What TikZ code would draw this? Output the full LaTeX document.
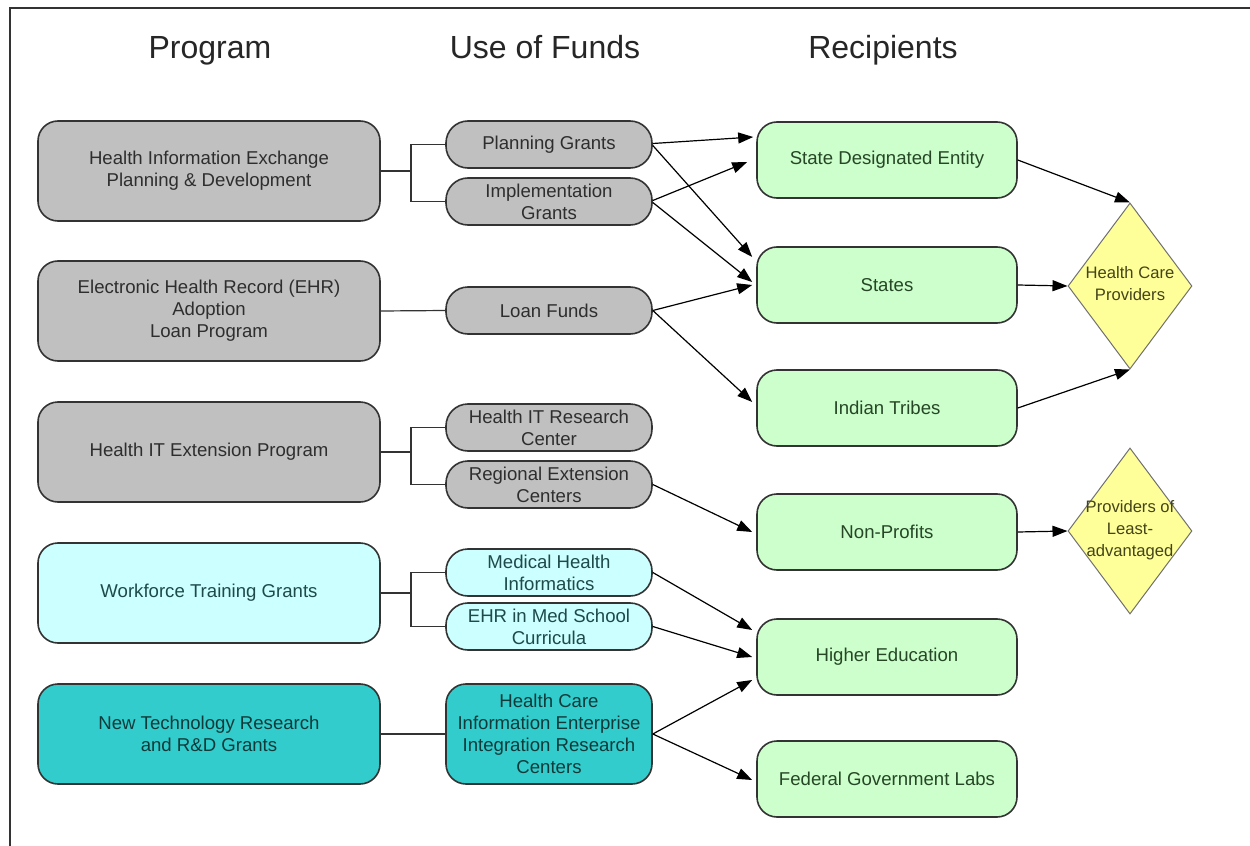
\documentclass[tikz,border=0pt]{standalone}
\usepackage{fontspec}
\setmainfont{Liberation Sans}
\usetikzlibrary{shapes.geometric,arrows.meta,calc}
\definecolor{bordc}{HTML}{333333}
\definecolor{grayf}{HTML}{C0C0C0}
\definecolor{grayt}{HTML}{2E2E2E}
\definecolor{cyanf}{HTML}{CCFFFF}
\definecolor{cyant}{HTML}{1E4A4A}
\definecolor{tealf}{HTML}{33CCCC}
\definecolor{tealt}{HTML}{103A3A}
\definecolor{greenf}{HTML}{CCFFCC}
\definecolor{greent}{HTML}{264626}
\definecolor{yellowf}{HTML}{FFFF99}
\definecolor{yellowt}{HTML}{44441A}
\begin{document}
\begin{tikzpicture}[x=0.5pt,y=-0.5pt,
  every node/.style={font=\fontsize{9.3}{11}\selectfont, align=center, inner sep=0pt},
  title/.style={font=\fontsize{16}{19}\selectfont, text=black!85, anchor=base},
  prog/.style={draw=bordc, line width=0.8pt, rounded corners=10pt, minimum width=171pt, minimum height=50pt},
  fund/.style={draw=bordc, line width=0.8pt, rounded corners=11pt, minimum width=103pt, minimum height=23.5pt},
  bigfund/.style={draw=bordc, line width=0.8pt, rounded corners=10pt, minimum width=103pt, minimum height=50pt},
  grayb/.style={fill=grayf, text=grayt},
  cyanb/.style={fill=cyanf, text=cyant},
  tealb/.style={fill=tealf, text=tealt},
  recip/.style={draw=bordc, fill=greenf, text=greent, line width=0.8pt, rounded corners=10pt, minimum width=130pt, minimum height=38pt},
  dia/.style={diamond, draw=bordc!70, fill=yellowf, line width=0.5pt, minimum width=62pt, minimum height=83pt},
  dtext/.style={text=yellowt, font=\fontsize{8.3}{11}\selectfont},
  link/.style={draw=bordc, line width=0.6pt},
  arr/.style={draw=black, line width=0.6pt, -{Triangle[length=7.5pt,width=5.5pt]}}
]
\useasboundingbox (0,0) rectangle (1250,846);
\fill[white] (0,0) rectangle (1250,846);
\draw[line width=1pt, bordc] (1250,8) -- (10,8) -- (10,846);

% titles
\node[title] (t1) at (210,58) {Program};
\node[title] (t2) at (545,58) {Use of Funds};
\node[title] (t3) at (883,58) {Recipients};

% programs
\node[prog,grayb] (p1) at (209,171) {Health Information Exchange\\Planning \& Development};
\node[prog,grayb] (p2) at (209,311) {Electronic Health Record (EHR)\\Adoption\\Loan Program};
\node[prog,grayb] (p3) at (209,452) {Health IT Extension Program};
\node[prog,cyanb] (p4) at (209,593) {Workforce Training Grants};
\node[prog,tealb] (p5) at (209,734) {New Technology Research\\and R\&D Grants};

% use of funds
\node[fund,grayb] (pg) at (549,144.5) {Planning Grants};
\node[fund,grayb] (ig) at (549,201.5) {Implementation\\Grants};
\node[fund,grayb] (lf) at (549,310.5) {Loan Funds};
\node[fund,grayb] (hrc) at (549,427.5) {Health IT Research\\Center};
\node[fund,grayb] (rec) at (549,484.5) {Regional Extension\\Centers};
\node[fund,cyanb] (mhi) at (549,572.5) {Medical Health\\Informatics};
\node[fund,cyanb] (ehr) at (549,626.5) {EHR in Med School\\Curricula};
\node[bigfund,tealb] (hc) at (549,734) {Health Care\\Information Enterprise\\Integration Research\\Centers};

% recipients
\node[recip] (sde) at (887,160) {State Designated Entity};
\node[recip] (st) at (887,285) {States};
\node[recip] (it) at (887,408) {Indian Tribes};
\node[recip] (np) at (887,532) {Non-Profits};
\node[recip] (he) at (887,657) {Higher Education};
\node[recip] (fgl) at (887,779) {Federal Government Labs};

% diamonds
\node[dia] (hcp) at (1130,286) {};
\node[dtext] (hcpt) at (1130,284) {Health Care\\Providers};
\node[dia] (pla) at (1130,531) {};
\node[dtext] (plat) at (1130,530) {Providers of\\Least-\\advantaged};

% brackets / plain links
\coordinate (b1) at (411,171);
\draw[link] (p1.east) -- (b1);
\draw[link] (pg.west) -| (b1) |- (ig.west);
\draw[link] (p2.east) -- (lf.west);
\coordinate (b3) at (411,452);
\draw[link] (p3.east) -- (b3);
\draw[link] (hrc.west) -| (b3) |- (rec.west);
\coordinate (b4) at (411,593);
\draw[link] (p4.east) -- (b4);
\draw[link] (mhi.west) -| (b4) |- (ehr.west);
\draw[link] (p5.east) -- (hc.west);

% arrows to recipients
\draw[arr] ($(pg.east)+(0,-1)$) -- ($(sde.west)+(-3,-23)$);
\draw[arr] ($(ig.east)+(0,-1)$) -- ($(sde.west)+(-9,2)$);
\draw[arr] ($(pg.east)+(0,1)$) -- ($(st.west)+(-4,-28)$);
\draw[arr] ($(ig.east)+(0,1)$) -- ($(st.west)+(-4,-3)$);
\draw[arr] (lf.east) -- ($(st.west)+(-4,0)$);
\draw[arr] (lf.east) -- ($(it.west)+(-4,-6)$);
\draw[arr] (rec.east) -- ($(np.west)+(-4,0)$);
\draw[arr] (mhi.east) -- ($(he.west)+(-4,-27)$);
\draw[arr] (ehr.east) -- ($(he.west)+(-4,0)$);
\draw[arr] (hc.east) -- ($(he.west)+(-4,23)$);
\draw[arr] (hc.east) -- ($(fgl.west)+(-4,1)$);

% arrows to diamonds
\draw[arr] (sde.east) -- (hcp.north);
\draw[arr] (st.east) -- (hcp.west);
\draw[arr] (it.east) -- (hcp.south);
\draw[arr] (np.east) -- (pla.west);
\end{tikzpicture}
\end{document}
